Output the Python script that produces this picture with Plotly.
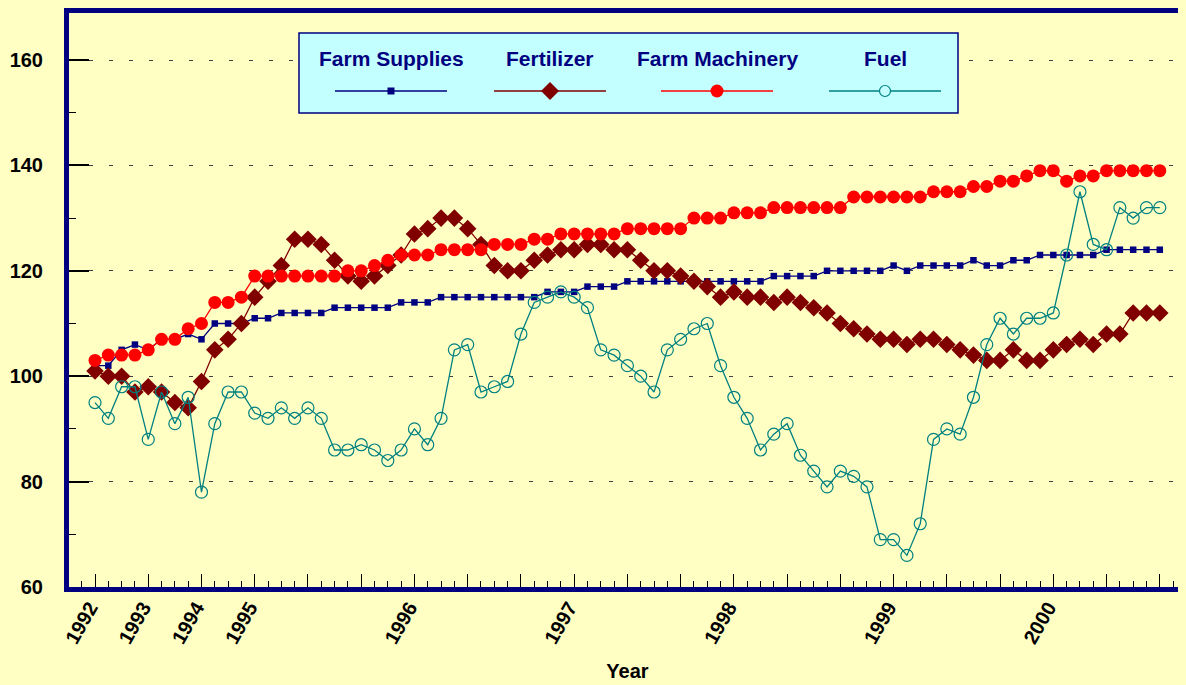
import plotly.graph_objects as go

# ---------------- data ----------------
# 1992-1994 quarterly, then monthly from Jan 1995 to Sep 2000
periods = ([f"{y} Q{q}" for y in (1992, 1993, 1994) for q in (1, 2, 3, 4)]
           + [f"{y}-{m:02d}" for y in range(1995, 2001) for m in range(1, 13)])[:81]

year_labels = ["1992", "1993", "1994", "1995", "1996", "1997", "1998", "1999", "2000"]

farm_supplies = [102, 102, 105, 106, 105, 107, 107, 108, 107, 110, 110, 110,
                 111, 111, 112, 112, 112, 112, 113, 113, 113, 113, 113, 114,
                 114, 114, 115, 115, 115, 115, 115, 115, 115, 115, 116, 116,
                 116, 117, 117, 117, 118, 118, 118, 118, 118, 118, 118, 118,
                 118, 118, 118, 119, 119, 119, 119, 120, 120, 120, 120, 120,
                 121, 120, 121, 121, 121, 121, 122, 121, 121, 122, 122, 123,
                 123, 123, 123, 123, 124, 124, 124, 124, 124]

fertilizer = [101, 100, 100, 97, 98, 97, 95, 94, 99, 105, 107, 110,
              115, 118, 121, 126, 126, 125, 122, 119, 118, 119, 121, 123,
              127, 128, 130, 130, 128, 125, 121, 120, 120, 122, 123, 124,
              124, 125, 125, 124, 124, 122, 120, 120, 119, 118, 117, 115,
              116, 115, 115, 114, 115, 114, 113, 112, 110, 109, 108, 107,
              107, 106, 107, 107, 106, 105, 104, 103, 103, 105, 103, 103,
              105, 106, 107, 106, 108, 108, 112, 112, 112]

farm_machinery = [103, 104, 104, 104, 105, 107, 107, 109, 110, 114, 114, 115,
                  119, 119, 119, 119, 119, 119, 119, 120, 120, 121, 122, 123,
                  123, 123, 124, 124, 124, 124, 125, 125, 125, 126, 126, 127,
                  127, 127, 127, 127, 128, 128, 128, 128, 128, 130, 130, 130,
                  131, 131, 131, 132, 132, 132, 132, 132, 132, 134, 134, 134,
                  134, 134, 134, 135, 135, 135, 136, 136, 137, 137, 138, 139,
                  139, 137, 138, 138, 139, 139, 139, 139, 139]

fuel = [95, 92, 98, 98, 88, 97, 91, 96, 78, 91, 97, 97,
        93, 92, 94, 92, 94, 92, 86, 86, 87, 86, 84, 86,
        90, 87, 92, 105, 106, 97, 98, 99, 108, 114, 115, 116,
        115, 113, 105, 104, 102, 100, 97, 105, 107, 109, 110, 102,
        96, 92, 86, 89, 91, 85, 82, 79, 82, 81, 79, 69,
        69, 66, 72, 88, 90, 89, 96, 106, 111, 108, 111, 111,
        112, 123, 135, 125, 124, 132, 130, 132, 132]

y_ticks = [60, 80, 100, 120, 140, 160]

# ---------------- styling ----------------
NAVY = "#000080"
DARKRED = "#800000"
RED = "#FF0000"
TEAL = "#008080"
BG = "#FFFFC4"
LEGEND_BG = "#C4FFFF"
FONT = "Arial, Liberation Sans, sans-serif"

# page body has an 8px margin, so the figure is sized to fit the window
W, H = 1178, 677
ML, MR, MT, MB = 61, 0, 5, 98
PW, PH = W - ML - MR, H - MT - MB
OFF = 8  # body margin offset in window pixels

x = list(range(len(periods)))
year_pos = [periods.index(next(p for p in periods if p.startswith(yl))) for yl in year_labels]

fig = go.Figure()

series = [
    ("Farm Supplies", farm_supplies, NAVY, dict(symbol="square", size=6.5, color=NAVY)),
    ("Fertilizer", fertilizer, DARKRED, dict(symbol="diamond", size=13.5, color=DARKRED)),
    ("Farm Machinery", farm_machinery, RED, dict(symbol="circle", size=13, color=RED)),
    ("Fuel", fuel, TEAL, dict(symbol="circle-open", size=12, color=TEAL, line=dict(width=1.2, color=TEAL))),
]
for name, vals, col, mk in series:
    fig.add_trace(go.Scatter(
        x=x, y=vals, name=name, mode="lines+markers",
        line=dict(color=col, width=1.3), marker=mk,
        customdata=periods, hovertemplate="%{customdata}: %{y}<extra>" + name + "</extra>",
        showlegend=False,
    ))

tickvals = list(range(0, len(periods), 4))
ticktext = [year_labels[year_pos.index(v)] if v in year_pos else "" for v in tickvals]

step = 13.31            # pixels per period
first_px = 95 - OFF - ML  # pixel offset of first period inside plot area
px_per_unit = 5.27
fig.update_xaxes(
    range=[-first_px / step, (PW - first_px) / step],
    tickmode="array", tickvals=tickvals, ticktext=ticktext,
    ticks="inside", ticklen=13, tickwidth=1, tickcolor="black",
    tickangle=-60, ticklabelstandoff=-4, ticklabelshift=-5,
    tickfont=dict(family=FONT, size=20, color="black", weight="bold"),
    showline=True, linecolor=NAVY, linewidth=5, mirror=True,
    showgrid=False, zeroline=False,
    minor=dict(tick0=0, dtick=1, ticks="inside", ticklen=6, tickwidth=1,
               tickcolor="black", showgrid=False),
    title=dict(text="Year", font=dict(family=FONT, size=20, color="black", weight="bold"),
               standoff=19),
)
fig.update_yaxes(
    range=[60, 60 + PH / px_per_unit],
    tickmode="array", tickvals=y_ticks,
    ticks="inside", ticklen=20, tickwidth=1.5, tickcolor="black",
    ticklabelstandoff=17,
    tickfont=dict(family=FONT, size=20, color="black", weight="bold"),
    showline=True, linecolor=NAVY, linewidth=5, mirror=False,
    showgrid=True, gridcolor="#404040", gridwidth=1, griddash="4px,16px",
    zeroline=False,
    minor=dict(dtick=10, ticks="inside", ticklen=7, tickwidth=1,
               tickcolor="black", showgrid=False),
)

# ---------------- custom legend (text above line sample) ----------------
def px_x(p):
    return (p - OFF - ML) / PW


def px_y(p):
    return (OFF + MT + PH - p) / PH


shapes = [dict(type="rect", xref="paper", yref="paper",
               x0=px_x(299), x1=px_x(958), y0=px_y(113), y1=px_y(33),
               fillcolor=LEGEND_BG, line=dict(color=NAVY, width=1.5), layer="above")]
annotations = []
legend_centers = [391, 550, 717, 885]
line_y = 91
text_y = 58
for (name, vals, col, mk), cx in zip(series, legend_centers):
    shapes.append(dict(type="line", xref="paper", yref="paper",
                       x0=px_x(cx - 56), x1=px_x(cx + 56), y0=px_y(line_y), y1=px_y(line_y),
                       line=dict(color=col, width=1.3), layer="above"))
    common = dict(xref="paper", yref="paper", xsizemode="pixel", ysizemode="pixel",
                  xanchor=px_x(cx), yanchor=px_y(line_y), layer="above")
    sym = mk["symbol"]
    if sym == "square":
        shapes.append(dict(type="rect", x0=-3.5, x1=3.5, y0=-3.5, y1=3.5,
                           fillcolor=col, line=dict(width=0), **common))
    elif sym == "diamond":
        shapes.append(dict(type="path", path="M-9,0 L0,9 L9,0 L0,-9 Z",
                           fillcolor=col, line=dict(width=0), **common))
    elif sym == "circle":
        shapes.append(dict(type="circle", x0=-6.5, x1=6.5, y0=-6.5, y1=6.5,
                           fillcolor=col, line=dict(width=0), **common))
    else:
        shapes.append(dict(type="circle", x0=-5.5, x1=5.5, y0=-5.5, y1=5.5,
                           fillcolor=LEGEND_BG, line=dict(color=col, width=1.2), **common))
    annotations.append(dict(xref="paper", yref="paper", x=px_x(cx), y=px_y(text_y),
                            text=name, showarrow=False, xanchor="center", yanchor="middle",
                            font=dict(family=FONT, size=21, color=NAVY, weight="bold")))

fig.update_layout(
    width=W, height=H,
    margin=dict(l=ML, r=MR, t=MT, b=MB, autoexpand=False),
    paper_bgcolor=BG, plot_bgcolor=BG,
    showlegend=False,
    font=dict(family=FONT, size=20, color="black", weight="bold"),
    shapes=shapes, annotations=annotations,
)

# fill the page margin around the figure with the same background colour
fig.write_html("out.html", post_script=f"document.body.style.background='{BG}';")
